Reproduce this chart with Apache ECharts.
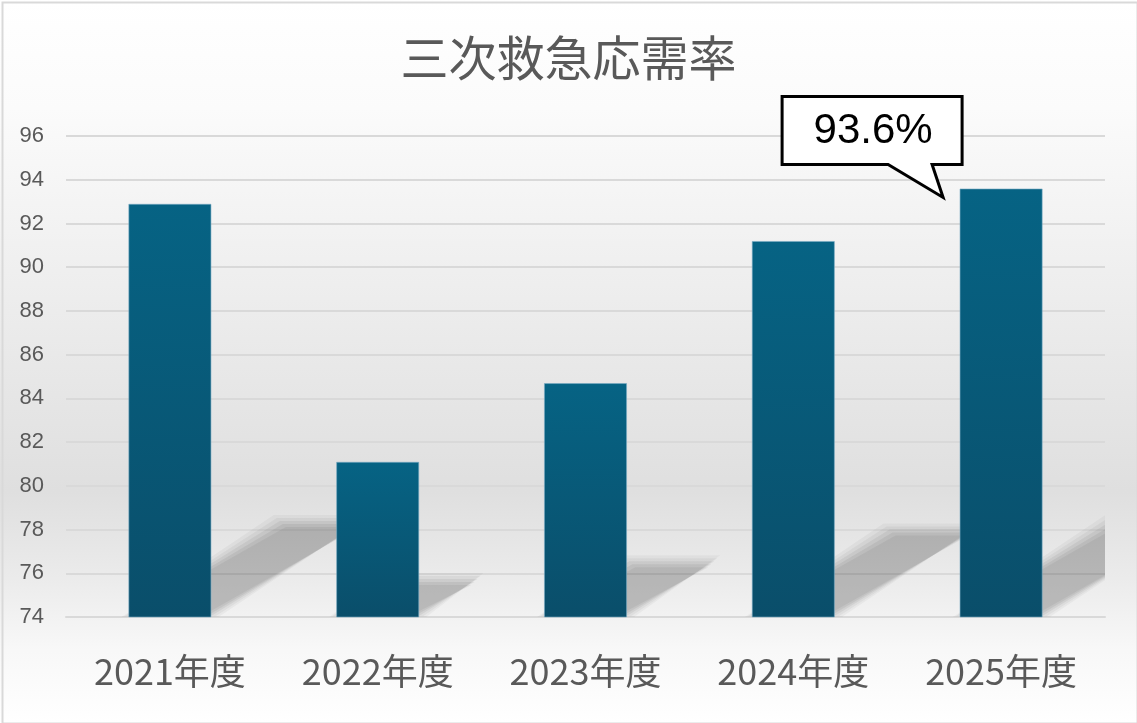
<!DOCTYPE html>
<html><head><meta charset="utf-8">
<script src="https://cdn.jsdelivr.net/npm/echarts@6/dist/echarts.min.js"></script>
<style>html,body{margin:0;padding:0;background:#fff}#c{width:1137px;height:723px}</style>
</head><body><div id="c"></div>
<script>
const title = '三次救急応需率';
const categories = ['2021年度', '2022年度', '2023年度', '2024年度', '2025年度'];
const values = [92.9, 81.1, 84.7, 91.2, 93.6];
const yMin = 74, yMax = 96, yStep = 2;
const calloutIndex = 4;
const calloutText = '93.6%';

const chart = echarts.init(document.getElementById('c'), null, {renderer: 'canvas'});
const FONT = '"Noto Sans CJK JP", "Noto Sans", sans-serif';

function shadowItem(params, api) {
  const idx = api.value(0);
  const v = api.value(1);
  const top = api.coord([idx, v]);
  const base = api.coord([idx, yMin]);
  const size = api.size([1, 0]);
  const bw = size[0] * 0.4;
  const left = base[0] - bw / 2, right = base[0] + bw / 2;
  const barH = base[1] - top[1];
  const h = barH * 0.225;
  const dx = h / 0.61;
  const y0 = base[1] - 2;
  const children = [];
  const layers = [[7, 0.035], [4, 0.045], [1, 0.055], [-2, 0.06], [-5, 0.05]];
  layers.forEach(function (l) {
    const e = l[0];
    children.push({
      type: 'polygon',
      shape: {points: [[left - e, y0 + e * 0.3], [right + e, y0 + e * 0.3],
                       [right + dx + e, y0 - h - e], [left + dx - e, y0 - h - e]]},
      style: {fill: 'rgba(0,0,0,' + l[1] + ')'}
    });
  });
  return {type: 'group', children: children};
}

function calloutItem(params, api) {
  const idx = api.value(0);
  const v = api.value(1);
  const p = api.coord([idx, v]);
  const cx = p[0], ty = p[1];
  const L = cx - 219, R = cx - 39, T = ty - 92, B = ty - 24;
  const pts = [[L, T], [R, T], [R, B], [cx - 69, B], [cx - 58, ty + 9], [cx - 113, B], [L, B]];
  return {
    type: 'group',
    children: [
      {type: 'polygon', shape: {points: pts}, style: {fill: '#fff', stroke: '#000', lineWidth: 3, lineJoin: 'miter'}},
      {type: 'text', style: {text: calloutText, x: (L + R) / 2 + 1, y: (T + B) / 2 + 1, align: 'center', verticalAlign: 'middle',
        fill: '#000', font: '42px "Liberation Sans", Arial, sans-serif'}}
    ]
  };
}

const option = {
  backgroundColor: {
    type: 'linear', x: 0, y: 0, x2: 0, y2: 1,
    colorStops: [
      {offset: 0, color: '#ffffff'},
      {offset: 0.15, color: '#fbfbfb'},
      {offset: 0.45, color: '#ebebeb'},
      {offset: 0.68, color: '#dfdfdf'},
      {offset: 0.8, color: '#ebebeb'},
      {offset: 0.9, color: '#f8f8f8'},
      {offset: 1, color: '#ffffff'}
    ]
  },
  animation: false,
  title: {
    text: title, left: 'center', top: 29,
    textStyle: {fontFamily: FONT, fontSize: 48, fontWeight: 'normal', color: '#595959'}
  },
  graphic: [{
    type: 'rect', left: 0, top: 0, silent: true,
    shape: {width: 1135, height: 721},
    style: {fill: 'none', stroke: '#d9d9d9', lineWidth: 2}
  }],
  grid: {left: 66, right: 32, top: 136, bottom: 106},
  xAxis: {
    type: 'category', data: categories,
    axisLine: {show: true, lineStyle: {color: '#d9d9d9', width: 2}},
    axisTick: {show: false},
    axisLabel: {color: '#595959', fontSize: 36, fontFamily: FONT, margin: 36}
  },
  yAxis: {
    type: 'value', min: yMin, max: yMax, interval: yStep,
    axisLine: {show: false}, axisTick: {show: false},
    splitLine: {lineStyle: {color: '#d9d9d9', width: 2}},
    axisLabel: {color: '#595959', fontSize: 22, fontFamily: '"Liberation Sans", Arial, sans-serif', margin: 22}
  },
  series: [
    {
      type: 'custom', renderItem: shadowItem, clip: true, z: 1, silent: true,
      data: values.map((v, i) => [i, v])
    },
    {
      type: 'bar', data: values, barWidth: '40%', z: 2,
      itemStyle: {
        color: {type: 'linear', x: 0, y: 0, x2: 0, y2: 1,
          colorStops: [{offset: 0, color: '#066384'}, {offset: 1, color: '#0a4e6a'}]},
        borderColor: 'rgba(120,170,195,0.6)', borderWidth: 1
      }
    },
    {
      type: 'custom', renderItem: calloutItem, clip: false, z: 5, silent: true,
      data: [[calloutIndex, values[calloutIndex]]]
    }
  ]
};
chart.setOption(option);
</script></body></html>
